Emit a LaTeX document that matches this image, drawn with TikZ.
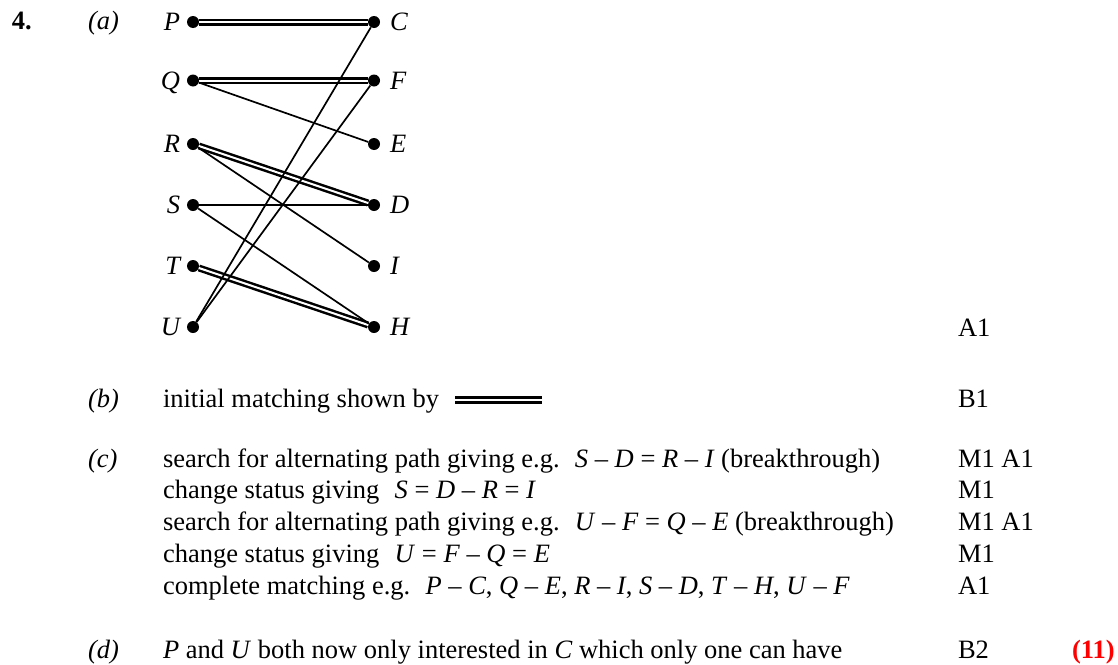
\documentclass[tikz,border=0pt]{standalone}
\usepackage{fontspec}
\setmainfont{Liberation Serif}
\usetikzlibrary{calc}
\newcommand{\fs}{\fontsize{26.5pt}{31pt}\selectfont}
\newcommand{\gap}{\hspace{0.33em}}
\begin{document}
\begin{tikzpicture}[x=1pt,y=-1pt,
  txt/.style={font=\fs, inner sep=0pt, outer sep=0pt, anchor=base west},
  itx/.style={txt, font=\fs\itshape},
  lbl/.style={itx, anchor=base east},
  rlbl/.style={itx, anchor=base west},
  dot/.style={circle, fill=black, inner sep=0pt, minimum size=12pt},
  sgl/.style={line width=1.7pt},
  dbl/.style={double, line width=2.5pt, double distance=2pt},
  score/.style={txt}
]
\useasboundingbox (0,0) rectangle (1118,664);
% header
\node[txt, font=\fs\bfseries] (num) at (12,29) {4.};
\node[itx] (pa) at (88,29) {(a)};
% dots
\node[dot] (P) at (193,22) {};
\node[dot] (Q) at (193,80.5) {};
\node[dot] (R) at (193,144) {};
\node[dot] (S) at (193,205) {};
\node[dot] (T) at (193,266) {};
\node[dot] (U) at (193,327) {};
\node[dot] (C) at (374,22) {};
\node[dot] (F) at (374,80.5) {};
\node[dot] (E) at (374,144) {};
\node[dot] (D) at (374,205) {};
\node[dot] (I) at (374,266) {};
\node[dot] (H) at (374,327) {};
% labels
\node[lbl] (lP) at (180,30.5) {P};
\node[lbl] (lQ) at (180,89) {Q};
\node[lbl] (lR) at (180,152.5) {R};
\node[lbl] (lS) at (180,213.5) {S};
\node[lbl] (lT) at (180,274.5) {T};
\node[lbl] (lU) at (180,335.5) {U};
\node[rlbl] (lC) at (390,30.5) {C};
\node[rlbl] (lF) at (390,89) {F};
\node[rlbl] (lE) at (390,152.5) {E};
\node[rlbl] (lD) at (390,213.5) {D};
\node[rlbl] (lI) at (390,274.5) {I};
\node[rlbl] (lH) at (390,335.5) {H};
% edges
\draw[dbl] (P) -- (C);
\draw[dbl] (Q) -- (F);
\draw[dbl] (R) -- (D);
\draw[dbl] (T) -- (H);
\draw[sgl] (Q) -- (E);
\draw[sgl] (R) -- (I);
\draw[sgl] (S) -- (D);
\draw[sgl] (S) -- (H);
\draw[sgl] (U) -- (C);
\draw[sgl] (U) -- (F);
% (b)
\node[itx] (pb) at (88,407) {(b)};
\node[txt] (tb) at (163,407) {initial matching shown by};
\coordinate (m1) at (455,400);
\coordinate (m2) at (542,400);
\draw[dbl, line width=3pt] (m1) -- (m2);
% (c)
\node[itx] (pc) at (88,467) {(c)};
\node[txt] (c1) at (163,467) {search for alternating path giving e.g.\gap\ \textit{S} – \textit{D} = \textit{R} – \textit{I} (breakthrough)};
\node[txt] (c2) at (163,498) {change status giving\gap\ \textit{S} = \textit{D} – \textit{R} = \textit{I}};
\node[txt] (c3) at (163,530) {search for alternating path giving e.g.\gap\ \textit{U} – \textit{F} = \textit{Q} – \textit{E} (breakthrough)};
\node[txt] (c4) at (163,562) {change status giving\gap\ \textit{U} = \textit{F} – \textit{Q} = \textit{E}};
\node[txt] (c5) at (163,594) {complete matching e.g.\gap\ \textit{P} – \textit{C}, \textit{Q} – \textit{E}, \textit{R} – \textit{I}, \textit{S} – \textit{D}, \textit{T} – \textit{H}, \textit{U} – \textit{F}};
% (d)
\node[itx] (pd) at (88,658) {(d)};
\node[txt] (td) at (163,658) {\textit{P} and \textit{U} both now only interested in \textit{C} which only one can have};
% marks
\node[score] (ka) at (958,336) {A1};
\node[score] (kb) at (958,407) {B1};
\node[score] (kc1) at (958,467) {M1 A1};
\node[score] (kc2) at (958,498) {M1};
\node[score] (kc3) at (958,530) {M1 A1};
\node[score] (kc4) at (958,562) {M1};
\node[score] (kc5) at (958,594) {A1};
\node[score] (kd) at (958,658) {B2};
\node[txt, font=\fs\bfseries, text=red] (tot) at (1072,658) {(11)};
\end{tikzpicture}
\end{document}
